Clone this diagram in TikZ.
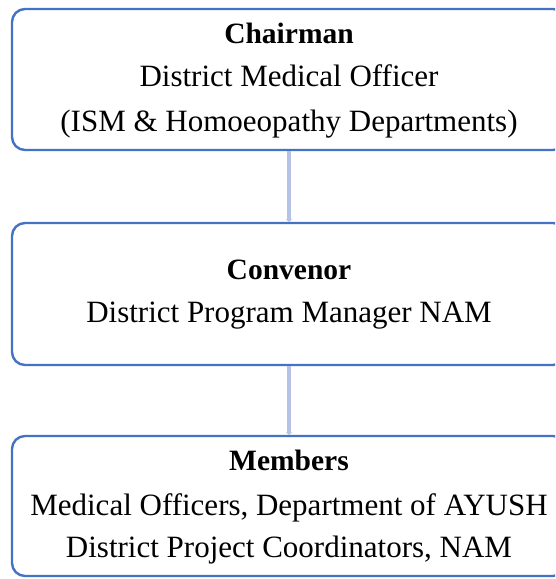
\documentclass[tikz,border=0pt]{standalone}
\usepackage{fontspec}
\setmainfont{Liberation Serif}
\usetikzlibrary{arrows.meta}
\definecolor{boxblue}{HTML}{4472C4}
\definecolor{linkblue}{HTML}{B4C3E6}
\begin{document}
\begin{tikzpicture}[x=1pt,y=1pt,
  box/.style={draw=boxblue, line width=2.4pt, rounded corners=13pt, fill=white},
  txt/.style={anchor=base, inner sep=0pt, font=\fontsize{31}{34}\selectfont},
  hd/.style={txt, font=\fontsize{29.5}{32}\selectfont\bfseries},
  link/.style={draw=linkblue, line width=4pt, -{Triangle[length=3pt,width=6pt]}}]
\useasboundingbox (0,0) rectangle (555,-579);
\begin{scope}
\clip (0,0) rectangle (555,-579);
\draw[box] (12,-9) rectangle (566,-150);
\coordinate (b1s) at (289,-151);
\draw[box] (12,-223) rectangle (566,-365);
\coordinate (b2n) at (289,-222);
\coordinate (b2s) at (289,-366);
\draw[box] (12,-436) rectangle (566,-576);
\coordinate (b3n) at (289,-435);
\end{scope}
\draw[link] (b1s) -- (b2n);
\draw[link] (b2s) -- (b3n);
\node[hd] (t1) at (289,-43) {Chairman};
\node[txt] (t2) at (289,-86) {District Medical Officer};
\node[txt] (t3) at (289,-131) {(ISM \& Homoeopathy Departments)};
\node[hd] (t4) at (289,-279) {Convenor};
\node[txt] (t5) at (289,-322) {District Program Manager NAM};
\node[hd] (t6) at (289,-470) {Members};
\node[txt] (t7) at (289,-515) {Medical Officers, Department of AYUSH};
\node[txt] (t8) at (289,-557) {District Project Coordinators, NAM};
\end{tikzpicture}
\end{document}
